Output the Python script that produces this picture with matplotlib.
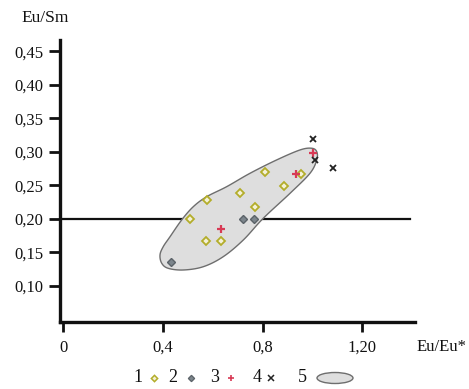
import numpy as np
import matplotlib
matplotlib.use("Agg")
import matplotlib.pyplot as plt
from matplotlib.patches import Polygon, Ellipse

plt.rcParams['font.family'] = ['Liberation Serif', 'DejaVu Serif']

# ---- data ----
g1_x = [0.810, 0.955, 0.886, 0.711, 0.578, 0.770, 0.508, 0.573, 0.633]
g1_y = [0.270, 0.267, 0.249, 0.239, 0.228, 0.218, 0.200, 0.167, 0.167]
g2_x = [0.722, 0.765, 0.433]
g2_y = [0.200, 0.200, 0.136]
g3_x = [0.633, 0.935, 1.004]
g3_y = [0.185, 0.267, 0.299]
g4_x = [1.004, 1.010, 1.084]
g4_y = [0.319, 0.288, 0.276]
field_x = [0.401, 0.428, 0.475, 0.522, 0.576, 0.656, 0.750, 0.857, 0.951, 0.998,
           1.018, 1.018, 0.991, 0.911, 0.803, 0.723, 0.642, 0.562, 0.482, 0.421,
           0.395, 0.388]
field_y = [0.1587, 0.1734, 0.1985, 0.2184, 0.2333, 0.2482, 0.2682, 0.2881, 0.3030,
           0.3055, 0.3004, 0.2881, 0.2682, 0.2384, 0.2010, 0.1687, 0.1437, 0.1288,
           0.1239, 0.1264, 0.1339, 0.1463]
ref_y = 0.20
ref_x_end = 1.393
yticks = [0.10, 0.15, 0.20, 0.25, 0.30, 0.35, 0.40, 0.45]
ytick_labels = ['0,10', '0,15', '0,20', '0,25', '0,30', '0,35', '0,40', '0,45']
xticks = [0.0, 0.4, 0.8, 1.2]
xtick_labels = ['0', '0,4', '0,8', '1,20']


def closed_spline(x, y, n=16):
    P = np.column_stack([x, y])
    m = len(P)
    out = []
    for i in range(m):
        p0, p1, p2, p3 = P[(i - 1) % m], P[i], P[(i + 1) % m], P[(i + 2) % m]
        t = np.linspace(0, 1, n, endpoint=False)[:, None]
        out.append(0.5 * ((2 * p1) + (-p0 + p2) * t +
                          (2 * p0 - 5 * p1 + 4 * p2 - p3) * t ** 2 +
                          (-p0 + 3 * p1 - 3 * p2 + p3) * t ** 3))
    return np.vstack(out)


W, H = 469, 389
fig = plt.figure(figsize=(W / 100, H / 100), dpi=100)
ax = fig.add_axes([60 / W, (H - 322) / H, 355 / W, 282 / H])
ax.set_xlim(-0.014, 1.413)
ax.set_ylim(0.0463, 0.467)

for s in ['top', 'right']:
    ax.spines[s].set_visible(False)
for s in ['left', 'bottom']:
    ax.spines[s].set_linewidth(2.4)
    ax.spines[s].set_color('#111111')

ax.set_yticks(yticks)
ax.set_yticklabels(ytick_labels)
ax.set_xticks(xticks)
ax.set_xticklabels(xtick_labels)
ax.tick_params(axis='y', length=8, width=2, pad=4, labelsize=12, colors='#111111')
ax.tick_params(axis='x', length=7, width=2, pad=6, labelsize=12, colors='#111111')

ax.plot([0, ref_x_end], [ref_y, ref_y], color='#111111', lw=1.6, zorder=1, clip_on=False)

pts = closed_spline(field_x, field_y)
ax.add_patch(Polygon(pts, closed=True, facecolor='#dedede', edgecolor='#6e6e6e',
                     lw=1.0, zorder=2))

ax.plot(g1_x, g1_y, 'D', ms=4.2, mfc='#f4f1d8', mec='#b3ad2a', mew=1.3, zorder=3, ls='none')
ax.plot(g2_x, g2_y, 'D', ms=4.2, mfc='#7c858c', mec='#5b6268', mew=1.0, zorder=3, ls='none')
ax.plot(g3_x, g3_y, '+', ms=6, mec='#d83a55', mew=1.6, zorder=4, ls='none')
ax.plot(g4_x, g4_y, 'x', ms=4.5, mec='#222222', mew=1.3, zorder=4, ls='none')

fig.text(45 / W, 1 - 18 / H, 'Eu/Sm', ha='center', va='center', fontsize=12.5, color='#111111')
fig.text(442 / W, 1 - 347 / H, 'Eu/Eu*', ha='center', va='center', fontsize=12, color='#111111')

# legend row
lg = fig.add_axes([0, 0, 1, 1], facecolor='none')
lg.set_xlim(0, W)
lg.set_ylim(H, 0)
lg.axis('off')
ly = 378
for num, nx in zip(['1', '2', '3', '4', '5'], [138, 173, 215, 257, 302]):
    lg.text(nx, ly, num, ha='center', va='center', fontsize=13, color='#111111')
lg.plot([154], [ly], 'D', ms=3.2, mfc='#f4f1d8', mec='#b3ad2a', mew=1.1)
lg.plot([191], [ly], 'D', ms=3.2, mfc='#7c858c', mec='#5b6268', mew=0.9)
lg.plot([231], [ly], '+', ms=5, mec='#d83a55', mew=1.2)
lg.plot([271], [ly], 'x', ms=3.8, mec='#222222', mew=1.1)
lg.add_patch(Ellipse((335, ly), 36, 11, facecolor='#dedede', edgecolor='#6e6e6e', lw=1.0))

fig.savefig('out.png', dpi=100)
